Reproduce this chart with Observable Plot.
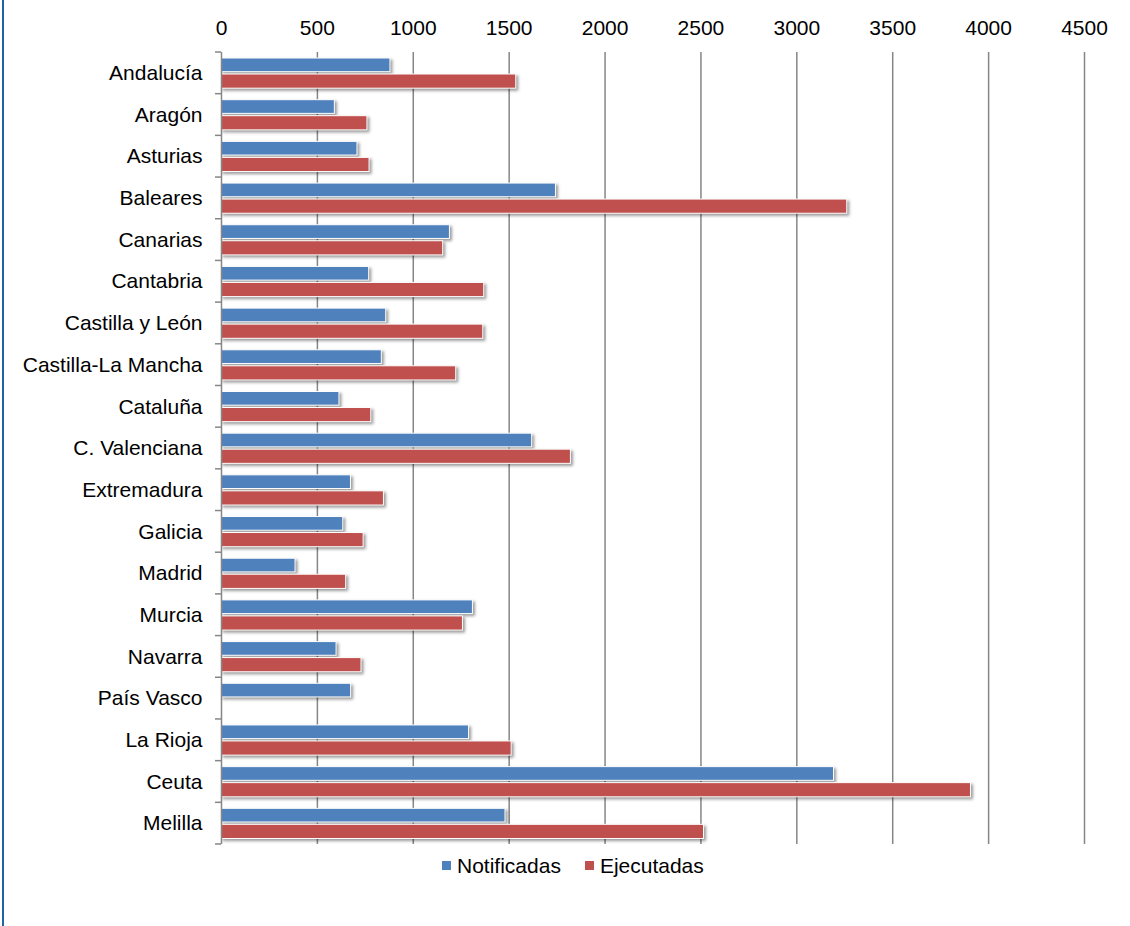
<!DOCTYPE html>
<html><head><meta charset="utf-8">
<script src="https://cdn.jsdelivr.net/npm/d3@7"></script>
<script src="https://cdn.jsdelivr.net/npm/@observablehq/plot@0.6"></script>
<style>
html,body{margin:0;padding:0;background:#fff;}
#wrap{position:relative;width:1130px;height:926px;font-family:"Liberation Sans",Arial,sans-serif;overflow:hidden;}
#border{position:absolute;left:2px;top:0;width:2px;height:926px;background:#1f63a8;}
#chart{position:absolute;left:0;top:0;}
#legend{position:absolute;top:853px;left:442px;font-size:21px;color:#000;white-space:nowrap;line-height:26px;}
.sw{display:inline-block;width:9px;height:9px;margin-right:6px;vertical-align:middle;position:relative;top:-2px;}
.item{display:inline-block;}
</style>
</head><body>
<div id="wrap"><div id="border"></div><div id="chart"></div><div id="legend"></div></div>
<script>
const categories = ["Andalucía","Aragón","Asturias","Baleares","Canarias","Cantabria","Castilla y León","Castilla-La Mancha","Cataluña","C. Valenciana","Extremadura","Galicia","Madrid","Murcia","Navarra","País Vasco","La Rioja","Ceuta","Melilla"];
const notificadas = [881,591,709,1744,1191,770,859,836,615,1620,675,635,386,1311,600,676,1291,3194,1481];
const ejecutadas = [1537,761,772,3263,1156,1370,1365,1224,781,1822,847,741,650,1259,730,null,1513,3908,2516];
const xTicks = [0,500,1000,1500,2000,2500,3000,3500,4000,4500];
const seriesNames = ["Notificadas","Ejecutadas"];
const seriesColors = ["#4F81BD","#C0504D"];

const notifData = categories.map((c,i)=>({cat:c, value:notificadas[i]})).filter(d=>d.value!=null);
const ejecData = categories.map((c,i)=>({cat:c, value:ejecutadas[i]})).filter(d=>d.value!=null);

function bandTicks(index, scales, values, dimensions) {
  const y = scales.y;
  const g = d3.create("svg:g");
  const ml = dimensions.marginLeft;
  const pos = categories.map(c=>y(c));
  pos.push(y(categories[categories.length-1]) + y.bandwidth());
  g.selectAll("line").data(pos).join("line")
    .attr("x1", ml-6).attr("x2", ml).attr("y1", d=>d).attr("y2", d=>d)
    .attr("stroke","#868686").attr("stroke-width",1.5);
  return g.node();
}

const chart = Plot.plot({
  width: 1130, height: 850,
  marginLeft: 221, marginRight: 46, marginTop: 52, marginBottom: 6,
  style: {fontFamily: '"Liberation Sans", Arial, sans-serif', fontSize: "21px", color: "#000", background: "transparent"},
  x: {domain: [0,4500], ticks: xTicks, axis: "top", tickSize: 0, tickPadding: 18, label: null, tickFormat: d=>String(d)},
  y: {domain: categories, padding: 0, round: false, axis: "left", tickSize: 0, tickPadding: 19, label: null},
  marks: [
    Plot.ruleX(xTicks.filter(d=>d>0), {stroke:"#868686", strokeWidth:1.5}),
    Plot.barX(notifData, {x:"value", y:"cat", fill:seriesColors[0], stroke:"#fff", strokeWidth:1, insetTop:6, insetBottom:22}),
    Plot.barX(ejecData, {x:"value", y:"cat", fill:seriesColors[1], stroke:"#fff", strokeWidth:1, insetTop:22, insetBottom:5.5}),
    Plot.ruleX([0], {stroke:"#868686", strokeWidth:1.5}),
    bandTicks
  ]
});
d3.select(chart).selectAll('g[aria-label="bar"]').style("filter","drop-shadow(2px 2px 1.5px rgba(0,0,0,0.4))");
document.getElementById("chart").appendChild(chart);

const legend = d3.select("#legend");
seriesNames.forEach((n,i)=>{
  const it = legend.append("span").attr("class","item").style("margin-right", i===0 ? "24px" : "0");
  it.append("span").attr("class","sw").style("background", seriesColors[i]);
  it.append("span").text(n);
});
</script>
</body></html>
